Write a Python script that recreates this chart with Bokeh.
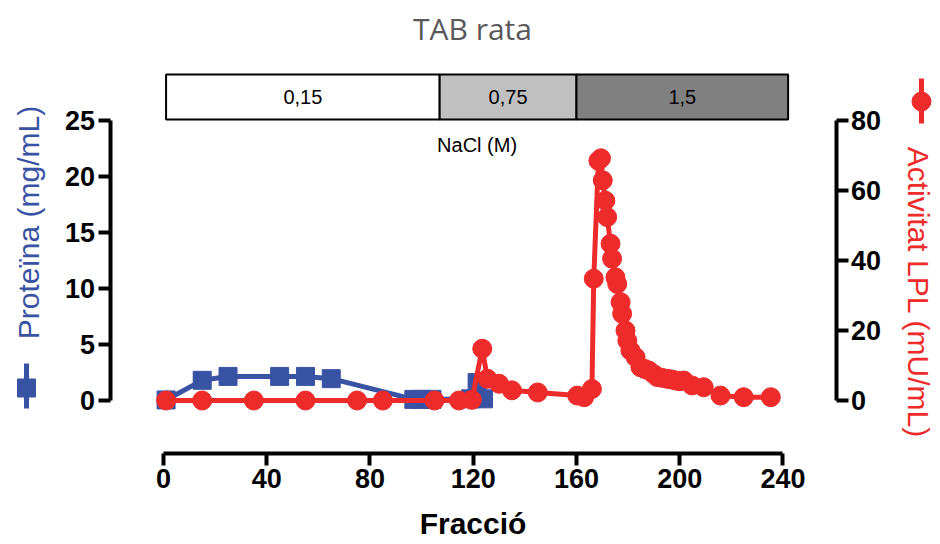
import math
from bokeh.plotting import figure
from bokeh.models import Range1d, LinearAxis, SingleIntervalTicker, Label, ColumnDataSource
from bokeh.core.properties import value
from bokeh.embed import file_html
from bokeh.resources import INLINE

# ---------------- data ----------------
prot_frac = [1, 15, 25, 45, 55, 65, 97, 100, 104, 119, 121.5, 124]
prot_val = [0.05, 1.8, 2.15, 2.15, 2.15, 1.95, 0.1, 0.1, 0.1, 0.15, 1.6, 0.15]

act_frac = [1, 15, 35, 55, 75, 85, 105, 114.5, 119.5, 123.5, 125.5, 130, 135, 145,
            160.3, 163, 166, 166.7, 168.5, 169.5, 170.2, 171.2, 171.9, 173.2, 173.8,
            175.1, 175.8, 177.1, 177.7, 179, 179.7, 180.9, 182.9, 184.8, 186.5, 188,
            190, 191.3, 193, 195.2, 197, 198.4, 200, 201.6, 204.8, 209.3, 215.8,
            224.8, 235.3]
act_val = [0.0, 0.0, 0.0, 0.0, 0.0, 0.0, 0.0, 0.0, 0.2, 14.8, 6.2, 4.8, 2.9, 2.3,
           1.4, 0.95, 3.3, 34.8, 68.5, 69.2, 62.9, 57.1, 52.4, 44.8, 40.5,
           35.2, 33.3, 28.1, 24.8, 20.0, 17.1, 14.3, 12.4, 9.5, 9.0, 8.6,
           7.5, 6.7, 6.5, 6.2, 6.0, 5.7, 5.5, 5.7, 4.3, 3.8, 1.4,
           0.95, 0.95]

nacl_edges = [1, 107, 160, 242]
nacl_labels = ["0,15", "0,75", "1,5"]
nacl_colors = ["#ffffff", "#c0c0c0", "#808080"]

title_text = "TAB rata"
x_label = "Fracció"
y_label_left = "Proteïna (mg/mL)"
y_label_right = "Activitat LPL (mU/mL)"
nacl_title = "NaCl (M)"

BLUE = "#3953a4"
RED = "#ee2b2b"
FONT = "Liberation Sans"

# ---------------- figure (frame covers the whole canvas) ----------------
W, H = 940, 544
PX_X = 2.581    # px per fraction
PX_L = 11.2     # px per mg/mL
PX_R = 3.5      # px per mU/mL
X0, Y0 = 163, 400   # page position of data origin

p = figure(width=W, height=H, min_border=0,
           x_range=Range1d(-X0 / PX_X, (W - X0) / PX_X),
           y_range=Range1d((Y0 - H) / PX_L, Y0 / PX_L),
           output_backend="svg", toolbar_location=None)
p.extra_y_ranges = {"act": Range1d((Y0 - H) / PX_R, Y0 / PX_R)}
p.add_layout(LinearAxis(y_range_name="act"), "right")

p.grid.visible = False
p.outline_line_color = None
p.background_fill_color = "white"
p.border_fill_color = "white"

# offset (GraphPad-style) axes drawn inside the frame
p.xaxis.fixed_location = (Y0 - 452.5) / PX_L
p.yaxis[0].fixed_location = (109.5 - X0) / PX_X
p.yaxis[1].fixed_location = (835.5 - X0) / PX_X

p.xaxis.bounds = (0, 240)
p.xaxis.ticker = SingleIntervalTicker(interval=40)
p.yaxis[0].bounds = (0, 25)
p.yaxis[0].ticker = SingleIntervalTicker(interval=5)
p.yaxis[1].bounds = (0, 80)
p.yaxis[1].ticker = SingleIntervalTicker(interval=20)

for ax in list(p.xaxis) + list(p.yaxis):
    ax.axis_line_width = 4
    ax.axis_line_color = "black"
    ax.major_tick_line_width = 4
    ax.major_tick_line_color = "black"
    ax.major_tick_out = 12
    ax.major_tick_in = 0
    ax.minor_tick_line_color = None
    ax.major_label_text_font = FONT
    ax.major_label_text_font_style = "bold"
    ax.major_label_text_font_size = "27px"
    ax.major_label_text_color = "black"
    ax.major_label_standoff = 3

p.xaxis.major_label_standoff = 4
p.xaxis.axis_label = x_label
p.xaxis.axis_label_text_font = FONT
p.xaxis.axis_label_text_font_style = "bold"
p.xaxis.axis_label_text_font_size = "30px"
p.xaxis.axis_label_text_color = "black"
p.xaxis.axis_label_standoff = 15

# ---------------- NaCl box ----------------
box_src = ColumnDataSource(dict(
    left=nacl_edges[:-1], right=nacl_edges[1:], color=nacl_colors,
    xc=[(a + b) / 2 for a, b in zip(nacl_edges[:-1], nacl_edges[1:])],
    label=nacl_labels))
p.quad(left="left", right="right", bottom=25.1, top=29.1, fill_color="color",
       line_color="black", line_width=2, source=box_src)
p.text(x="xc", y=27.1, text="label", source=box_src, text_font=value(FONT),
       text_font_size="20px", text_align="center", text_baseline="middle",
       text_color="black")
p.text(x=[(nacl_edges[0] + nacl_edges[-1]) / 2], y=[22.8], text=[nacl_title],
       text_font=value(FONT), text_font_size="20px", text_align="center",
       text_baseline="middle", text_color="black")

# ---------------- series ----------------
p.line(prot_frac, prot_val, line_color=BLUE, line_width=5)
p.scatter(prot_frac, prot_val, marker="square", size=18, fill_color=BLUE,
          line_color=BLUE)

p.line(act_frac, act_val, line_color=RED, line_width=5, y_range_name="act")
p.scatter(act_frac, act_val, marker="circle", size=19, fill_color=RED,
          line_color=RED, y_range_name="act")

# ---------------- title, axis titles ----------------
def dx(px):
    return (px - X0) / PX_X

def dy(py):
    return (Y0 - py) / PX_L

p.add_layout(Label(x=dx(472), y=dy(28), text=title_text, text_font="Open Sans",
                   text_font_size="30px", text_color="#595959",
                   text_align="center", text_baseline="middle"))
p.add_layout(Label(x=dx(28), y=dy(222), text=y_label_left, angle=math.pi / 2,
                   text_font=FONT, text_font_size="30px", text_color=BLUE,
                   text_align="center", text_baseline="middle"))
p.add_layout(Label(x=dx(918), y=dy(292), text=y_label_right,
                   angle=-math.pi / 2, text_font=FONT, text_font_size="30px",
                   text_color=RED, text_align="center", text_baseline="middle"))

# legend keys (vertical line with marker, GraphPad style)
p.segment(x0=[dx(26)], y0=[dy(363)], x1=[dx(26)], y1=[dy(408)],
          line_color=BLUE, line_width=5)
p.scatter(x=[dx(26)], y=[dy(387.5)], marker="square", size=18,
          fill_color=BLUE, line_color=BLUE)
p.segment(x0=[dx(921)], y0=[dy(78)], x1=[dx(921)], y1=[dy(123)],
          line_color=RED, line_width=5)
p.scatter(x=[dx(921)], y=[dy(101)], marker="circle", size=19,
          fill_color=RED, line_color=RED)

open("out.html", "w").write(file_html(p, INLINE))
